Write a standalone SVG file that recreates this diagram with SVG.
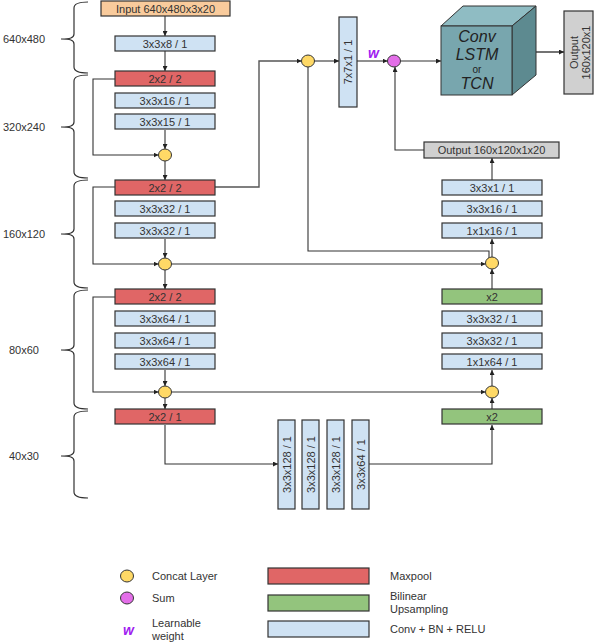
<svg xmlns="http://www.w3.org/2000/svg" width="594" height="644" viewBox="0 0 594 644">
<defs>
<marker id="a" viewBox="0 0 10 10" refX="10" refY="5" markerWidth="5" markerHeight="5" markerUnits="userSpaceOnUse" orient="auto"><path d="M0,0 L10,5 L0,10z" fill="#222"/></marker>
<style>
text{font-family:"Liberation Sans",Arial,sans-serif;fill:#333;}
.lbl{font-size:11px;text-anchor:middle;}
.side{font-size:11px;text-anchor:middle;}
.leg{font-size:11px;}
.box{stroke:#333;stroke-width:1.2;}
.mp{fill:#e06666;}
.up{fill:#93c47d;}
.cv{fill:#cfe2f3;}
.gr{fill:#d0d0d0;}
.in{fill:#f9cb9c;}
.cc{fill:#ffd966;stroke:#333;stroke-width:1;}
.sm{fill:#e36ee8;stroke:#333;stroke-width:1;}
.brace{fill:none;stroke:#333;stroke-width:1.2;}
#conn path{fill:none;stroke:#333;stroke-width:1.1;}
.w{font-size:14px;font-weight:bold;font-style:italic;fill:#a020f0;}
.cube{font-size:16px;font-style:italic;text-anchor:middle;fill:#222;}
</style>
</defs>
<rect width="594" height="644" fill="#fff"/>

<g id="braces">
<path class="brace" d="M88,2 C80,2 74,3 74,8 L74,34 C74,38 70,39 61,39 C70,39 74,40 74,44 L74,67 C74,72 80,73 88,73"/>
<path class="brace" d="M88,75 C80,75 74,76 74,81 L74,122 C74,126 70,127 61,127 C70,127 74,128 74,132 L74,172 C74,177 80,178 88,178"/>
<path class="brace" d="M88,180 C80,180 74,181 74,186 L74,229 C74,233 70,234 61,234 C70,234 74,235 74,239 L74,282 C74,287 80,288 88,288"/>
<path class="brace" d="M88,290 C80,290 74,291 74,296 L74,345 C74,349 70,350 61,350 C70,350 74,351 74,355 L74,403 C74,408 80,409 88,409"/>
<path class="brace" d="M88,411 C80,411 74,412 74,417 L74,451 C74,455 70,456 61,456 C70,456 74,457 74,461 L74,492 C74,497 80,498 88,498"/>
<text class="side" x="24" y="43">640x480</text>
<text class="side" x="24" y="131">320x240</text>
<text class="side" x="24" y="238">160x120</text>
<text class="side" x="24" y="354">80x60</text>
<text class="side" x="24" y="460">40x30</text>
</g>

<g id="conn">
<path d="M165,16 V36" marker-end="url(#a)"/>
<path d="M165,51 V71" marker-end="url(#a)"/>
<path d="M115,79 H93 V155 H158.5" marker-end="url(#a)"/>
<path d="M165,130 V149" marker-end="url(#a)"/>
<path d="M165,161 V180" marker-end="url(#a)"/>
<path d="M215,187 H259 V61 H301.5" marker-end="url(#a)" style="stroke:#555;stroke-width:1.4"/>
<path d="M314.5,61 H339" marker-end="url(#a)"/>
<path d="M357,61 H387.5" marker-end="url(#a)"/>
<path d="M400.5,61 H441" marker-end="url(#a)"/>
<path d="M424,150 H395 V67" marker-end="url(#a)"/>
<path d="M492,180 V158" marker-end="url(#a)"/>
<path d="M489,258 V251 H308 V67"/>
<path d="M492,257 V239" marker-end="url(#a)"/>
<path d="M115,187 H93 V264 H158.5" marker-end="url(#a)"/>
<path d="M165,239 V258" marker-end="url(#a)"/>
<path d="M171.5,264 H485.5" marker-end="url(#a)"/>
<path d="M165,270 V289" marker-end="url(#a)"/>
<path d="M492,289 V269" marker-end="url(#a)"/>
<path d="M115,297 H93 V392 H158.5" marker-end="url(#a)"/>
<path d="M165,370 V386" marker-end="url(#a)"/>
<path d="M165,398 V409" marker-end="url(#a)"/>
<path d="M171.5,392 H485.5" marker-end="url(#a)"/>
<path d="M492,409 V398" marker-end="url(#a)"/>
<path d="M492,386 V370" marker-end="url(#a)"/>
<path d="M165,425 V464 H278" marker-end="url(#a)"/>
<path d="M369,464 H492 V425" marker-end="url(#a)"/>
<path d="M512,52 H564" marker-end="url(#a)" style="stroke:#444;stroke-width:1.4"/>
</g>

<g id="input"><rect class="box in" x="101" y="1" width="129" height="15"/><text class="lbl" x="165.5" y="12.5">Input 640x480x3x20</text></g>
<g id="e1"><rect class="box cv" x="115" y="36" width="100" height="15"/><text class="lbl" x="165" y="47.5">3x3x8 / 1</text></g>
<g id="e2"><rect class="box mp" x="115" y="71" width="100" height="15"/><text class="lbl" x="165" y="82.5">2x2 / 2</text></g>
<g id="e3"><rect class="box cv" x="115" y="93" width="100" height="15"/><text class="lbl" x="165" y="104.5">3x3x16 / 1</text></g>
<g id="e4"><rect class="box cv" x="115" y="114" width="100" height="15"/><text class="lbl" x="165" y="125.5">3x3x15 / 1</text></g>
<g id="c1"><ellipse class="cc" cx="165" cy="155" rx="6.5" ry="6"/></g>
<g id="e5"><rect class="box mp" x="115" y="180" width="100" height="15"/><text class="lbl" x="165" y="191.5">2x2 / 2</text></g>
<g id="e6"><rect class="box cv" x="115" y="201" width="100" height="15"/><text class="lbl" x="165" y="212.5">3x3x32 / 1</text></g>
<g id="e7"><rect class="box cv" x="115" y="223" width="100" height="15"/><text class="lbl" x="165" y="234.5">3x3x32 / 1</text></g>
<g id="c2"><ellipse class="cc" cx="165" cy="264" rx="6.5" ry="6"/></g>
<g id="e8"><rect class="box mp" x="115" y="289" width="100" height="15"/><text class="lbl" x="165" y="300.5">2x2 / 2</text></g>
<g id="e9"><rect class="box cv" x="115" y="311" width="100" height="15"/><text class="lbl" x="165" y="322.5">3x3x64 / 1</text></g>
<g id="e10"><rect class="box cv" x="115" y="333" width="100" height="15"/><text class="lbl" x="165" y="344.5">3x3x64 / 1</text></g>
<g id="e11"><rect class="box cv" x="115" y="354" width="100" height="15"/><text class="lbl" x="165" y="365.5">3x3x64 / 1</text></g>
<g id="c3"><ellipse class="cc" cx="165" cy="392" rx="6.5" ry="6"/></g>
<g id="e12"><rect class="box mp" x="115" y="409" width="100" height="15"/><text class="lbl" x="165" y="420.5">2x2 / 1</text></g>

<g id="b1"><rect class="box cv" x="278" y="420" width="17" height="89"/><text class="lbl" transform="translate(290.5,464.5) rotate(-90)">3x3x128 / 1</text></g>
<g id="b2"><rect class="box cv" x="302" y="420" width="17" height="89"/><text class="lbl" transform="translate(314.5,464.5) rotate(-90)">3x3x128 / 1</text></g>
<g id="b3"><rect class="box cv" x="327" y="420" width="17" height="89"/><text class="lbl" transform="translate(339.5,464.5) rotate(-90)">3x3x128 / 1</text></g>
<g id="b4"><rect class="box cv" x="352" y="420" width="17" height="89"/><text class="lbl" transform="translate(364.5,464.5) rotate(-90)">3x3x64 / 1</text></g>

<g id="d1"><rect class="box up" x="442" y="409" width="100" height="15"/><text class="lbl" x="492" y="420.5">x2</text></g>
<g id="c4"><ellipse class="cc" cx="492" cy="392" rx="6.5" ry="6"/></g>
<g id="d2"><rect class="box cv" x="442" y="354" width="100" height="15"/><text class="lbl" x="492" y="365.5">1x1x64 / 1</text></g>
<g id="d3"><rect class="box cv" x="442" y="333" width="100" height="15"/><text class="lbl" x="492" y="344.5">3x3x32 / 1</text></g>
<g id="d4"><rect class="box cv" x="442" y="311" width="100" height="15"/><text class="lbl" x="492" y="322.5">3x3x32 / 1</text></g>
<g id="d5"><rect class="box up" x="442" y="289" width="100" height="15"/><text class="lbl" x="492" y="300.5">x2</text></g>
<g id="c5"><ellipse class="cc" cx="492" cy="263" rx="6.5" ry="6"/></g>
<g id="d6"><rect class="box cv" x="442" y="223" width="100" height="15"/><text class="lbl" x="492" y="234.5">1x1x16 / 1</text></g>
<g id="d7"><rect class="box cv" x="442" y="201" width="100" height="15"/><text class="lbl" x="492" y="212.5">3x3x16 / 1</text></g>
<g id="d8"><rect class="box cv" x="442" y="180" width="100" height="15"/><text class="lbl" x="492" y="191.5">3x3x1 / 1</text></g>
<g id="out1"><rect class="box gr" x="424" y="142" width="135" height="16"/><text class="lbl" x="491.5" y="154">Output 160x120x1x20</text></g>

<g id="c6"><ellipse class="cc" cx="308" cy="61" rx="6.5" ry="6"/></g>
<g id="k7"><rect class="box cv" x="339" y="17" width="18" height="90"/><text class="lbl" transform="translate(352,62) rotate(-90)">7x7x1 / 1</text></g>
<g id="wlbl"><text class="w" x="368" y="58">w</text></g>
<g id="sum"><ellipse class="sm" cx="394" cy="61" rx="6.5" ry="6"/></g>

<g id="cube">
<polygon points="441,26 463,6 536,6 512,26" fill="#8fbcc3" stroke="#333" stroke-width="1"/>
<polygon points="512,26 536,6 536,75 512,95" fill="#5d8a90" stroke="#333" stroke-width="1"/>
<rect x="441" y="26" width="71" height="69" fill="#78a6ae" stroke="#333" stroke-width="1"/>
<text class="cube" x="477" y="42">Conv</text>
<text class="cube" x="477" y="60">LSTM</text>
<text x="477" y="73" style="font-size:10px;text-anchor:middle;fill:#222">or</text>
<text class="cube" x="477" y="89">TCN</text>
</g>
<g id="out2"><rect class="box gr" x="564" y="11" width="29" height="83"/><text class="lbl" transform="translate(578.5,52.5) rotate(-90)"><tspan x="0" y="-1">Output</tspan><tspan x="0" y="11">160x120x1</tspan></text></g>

<g id="legend">
<ellipse class="cc" cx="127" cy="576" rx="6.5" ry="6"/>
<text class="leg" x="152" y="580">Concat Layer</text>
<ellipse class="sm" cx="127" cy="598" rx="6.5" ry="6"/>
<text class="leg" x="152" y="602">Sum</text>
<text class="w" x="123" y="635">w</text>
<text class="leg" x="152" y="627">Learnable</text>
<text class="leg" x="152" y="640">weight</text>
<rect class="box mp" x="268" y="568" width="101" height="16"/>
<text class="leg" x="390" y="580">Maxpool</text>
<rect class="box up" x="268" y="595" width="101" height="16"/>
<text class="leg" x="390" y="600">Bilinear</text>
<text class="leg" x="390" y="613">Upsampling</text>
<rect class="box cv" x="268" y="621" width="101" height="16"/>
<text class="leg" x="390" y="633">Conv + BN + RELU</text>
</g>
</svg>
